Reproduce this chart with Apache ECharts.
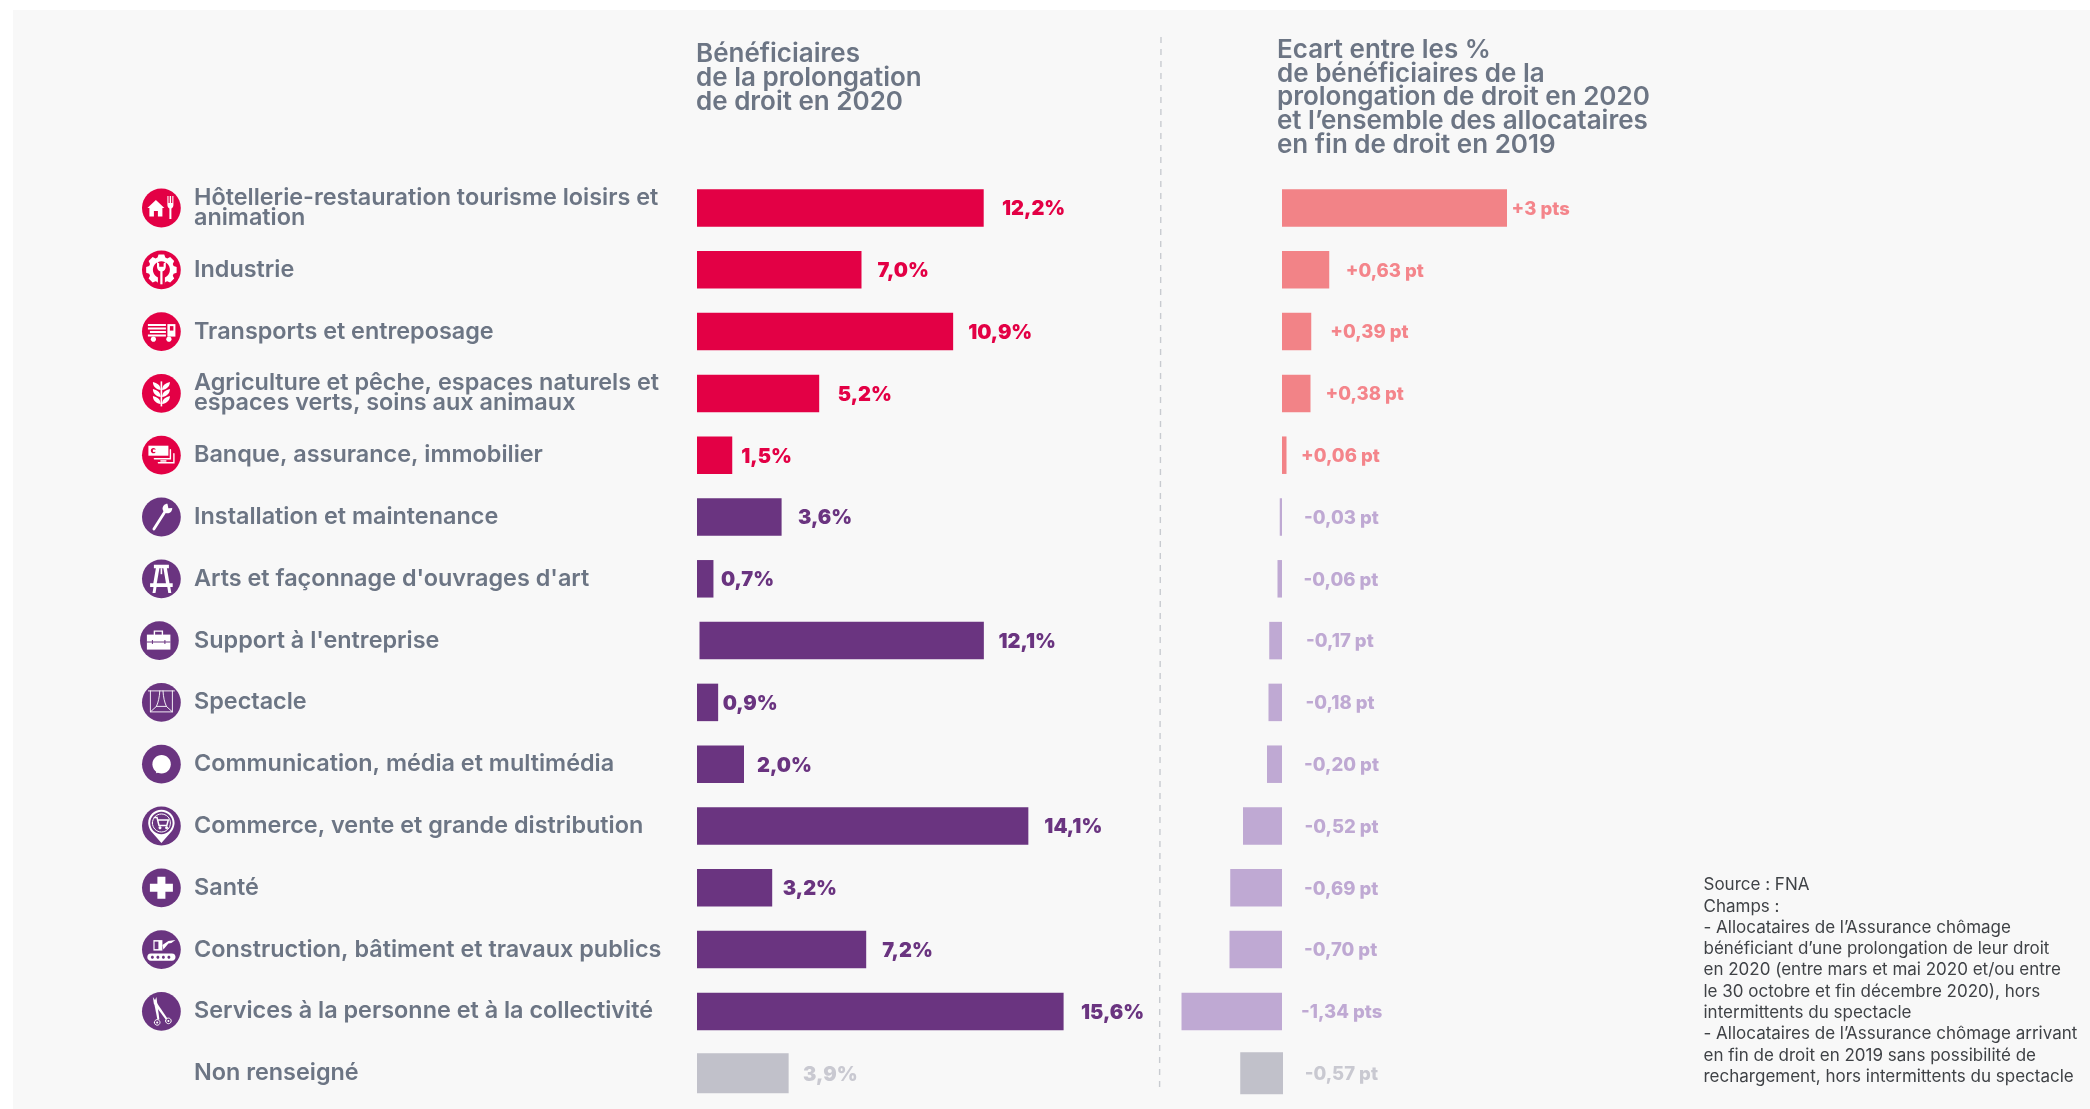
<!DOCTYPE html>
<html lang="fr">
<head>
<meta charset="utf-8">
<title>Bénéficiaires de la prolongation de droit en 2020</title>
<style>html,body{margin:0;padding:0;background:#fff}#c{width:2090px;height:1109px}</style>
<script src="https://cdn.jsdelivr.net/npm/echarts@6/dist/echarts.min.js"></script>
</head>
<body>
<div id="c"></div>
<script>
// ---- data ----
const categories = [
  "Hôtellerie-restauration tourisme loisirs et\nanimation",
  "Industrie",
  "Transports et entreposage",
  "Agriculture et pêche, espaces naturels et\nespaces verts, soins aux animaux",
  "Banque, assurance, immobilier",
  "Installation et maintenance",
  "Arts et façonnage d'ouvrages d'art",
  "Support à l'entreprise",
  "Spectacle",
  "Communication, média et multimédia",
  "Commerce, vente et grande distribution",
  "Santé",
  "Construction, bâtiment et travaux publics",
  "Services à la personne et à la collectivité",
  "Non renseigné"
];
const beneficiaries = [12.2, 7.0, 10.9, 5.2, 1.5, 3.6, 0.7, 12.1, 0.9, 2.0, 14.1, 3.2, 7.2, 15.6, 3.9];
const gapPoints = [3, 0.63, 0.39, 0.38, 0.06, -0.03, -0.06, -0.17, -0.18, -0.20, -0.52, -0.69, -0.70, -1.34, -0.57];
const gapLabels = ["+3 pts", "+0,63 pt", "+0,39 pt", "+0,38 pt", "+0,06 pt", "-0,03 pt", "-0,06 pt", "-0,17 pt", "-0,18 pt", "-0,20 pt", "-0,52 pt", "-0,69 pt", "-0,70 pt", "-1,34 pts", "-0,57 pt"];
const titleLeft = "Bénéficiaires\nde la prolongation\nde droit en 2020";
const titleRight = "Ecart entre les %\nde bénéficiaires de la\nprolongation de droit en 2020\net l’ensemble des allocataires\nen fin de droit en 2019";
const footnote = "Source : FNA\nChamps :\n- Allocataires de l’Assurance chômage\nbénéficiant d’une prolongation de leur droit\nen 2020 (entre mars et mai 2020 et/ou entre\nle 30 octobre et fin décembre 2020), hors\nintermittents du spectacle\n- Allocataires de l’Assurance chômage arrivant\nen fin de droit en 2019 sans possibilité de\nrechargement, hors intermittents du spectacle";

// ---- styles ----
const RED = "#e30045", PURPLE = "#6a3480", GREY = "#c1c1ca";
const L_RED = "#f28387", L_PURPLE = "#bfa9d3";
const L_RED_TXT = "#f4858b", L_PURPLE_TXT = "#bfa9d3", GREY_TXT = "#c9c9d1";
const TXT = "#6c7584";
const FONT = "Inter, 'Open Sans', sans-serif";
const groupOf = i => i < 5 ? 0 : (i < 14 ? 1 : 2);
const leftColor = i => [RED, PURPLE, GREY][groupOf(i)];
const rightColor = i => [L_RED, L_PURPLE, GREY][groupOf(i)];
const leftTxt = i => [RED, PURPLE, GREY_TXT][groupOf(i)];
const rightTxt = i => [L_RED_TXT, L_PURPLE_TXT, GREY_TXT][groupOf(i)];
const SUPPORT = 7, NR = 14;
const leftLabelGap = [18.3, 16, 15, 18.5, 9, 16.4, 7.5, 14.6, 4.5, 13, 16, 10.5, 16, 17.4, 14.4];
const rightLabelGap = [4.6, 16.5, 19, 15, 14.5, 22, 21.5, 24, 23.5, 22, 22.5, 22, 22, 19, 21.7];

// ---- icons: layers drawn in a 40x40 box over the round badge ----
const circ = (x, y, r) => {
  const k = r * 0.5523;
  return `M${x - r} ${y}C${x - r} ${y - k} ${x - k} ${y - r} ${x} ${y - r}C${x + k} ${y - r} ${x + r} ${y - k} ${x + r} ${y}C${x + r} ${y + k} ${x + k} ${y + r} ${x} ${y + r}C${x - k} ${y + r} ${x - r} ${y + k} ${x - r} ${y}Z`;
};
function gear(cx, cy, R, r, n) {
  let d = "";
  for (let k = 0; k < n; k++) {
    const a = k / n * Math.PI * 2, w = Math.PI / n * 0.55, t = Math.PI / n * 0.4;
    const pts = [[r, a - w - t * 0.6], [R, a - w + t * 0.2], [R, a + w - t * 0.2], [r, a + w + t * 0.6]];
    pts.forEach((p, j) => { d += (k === 0 && j === 0 ? "M" : "L") + (cx + p[0] * Math.sin(p[1])).toFixed(2) + " " + (cy - p[0] * Math.cos(p[1])).toFixed(2); });
  }
  return d + "Z";
}
const wheat = y => `M11.5 ${y}c4 .8 7.8 3.2 7.8 8.2c-4.2-.8-7.8-3.4-7.8-8.2ZM28.5 ${y}c-4 .8-7.8 3.2-7.8 8.2c4.2-.8 7.8-3.4 7.8-8.2Z`;
const F = d => ({ d, fill: "#fff" });
const K = d => ({ d, fill: "badge" });
const S = (d, lw) => ({ d, stroke: "#fff", lw });
const iconLayers = [
  [F("M6 20L14.5 12L23 20H21V28.5H16.5V23H12.5V28.5H8V20Z"), F("M26 8h1.1v7h1.2V8h1.4v7h1.2V8H32v9c0 2-1 3-2 3.5V31h-2V20.5c-1-.5-2-1.5-2-3.5Z")],
  [F(gear(20, 20, 15.5, 12.8, 8)), K(circ(20, 20, 8.5)), K("M16.5 25h7v12h-7z"), F("M18.9 21h2.2v13.5h-2.2z"), F("M15.6 12v5c0 2.2 1.5 4 3 4.5h2.8c1.5-.5 3-2.3 3-4.5v-5l-2.2 1.6V17h-4.4v-3.4Z")],
  [F("M6.5 12.5h18v2h-18zM6.5 16h18v2h-18zM8.5 19.5h16v2h-16zM6.5 23h18v2h-18z"), F("M26 12.5h8V25H26Z"), K("M28.5 14.5h3.5v4.5h-3.5z"), F(circ(12, 27.6, 2.6)), F(circ(27.5, 27.6, 2.6))],
  [F("M19.2 8h1.6v25h-1.6z"), F(wheat(8.5)), F(wheat(15.5)), F(wheat(22.5))],
  [F("M7 10.5h20v10H7z"), K(circ(12, 15.5, 2.6)), F("M11.5 14.3h4v2.4h-4z"), S("M29 14.5v9H13", 1.4), S("M32.5 18.5v9H17", 1.4), F("M19 25h6v1.5h-6z")],
  [S("M12.5 32L24 14", 2.8), F(circ(26, 11.5, 4.8)), K("M25.8 5.5L31.5 5L31 11L27 11.2Z")],
  [F("M12.5 6h15v3.4h-2l2.6 15h3.2v3.8H28.9l1 6h-3l-1-6H15.1l-1 6h-3l1-6H8.7v-3.8h3.2l2.6-15h-2Z"), K("M18 9.4h4l2.6 15H15.4Z"), F("M19.2 9.4h1.6v6h-1.6z")],
  [S("M15 14v-3.5h8V14", 1.4), F("M7.5 14h23.5v15H7.5z"), K("M7.5 21h23.5v1H7.5zM12.5 19.5h1v4h-1zM25 19.5h1v4h-1z")],
  [S("M7 8.5h26M9 8.5v21h22v-21M9 29.5l6-5.5c2-4.5 3-9 3.4-15.5M31 29.5l-6-5.5c-2-4.5-3-9-3.4-15.5M15 24h10", 0.9)],
  [F(circ(20.2, 20, 9.2)), F("M15.5 26l-1 3l6-1.8Z")],
  [F("M20 37L11 26.8C7 23 6.8 17 6.8 17C6.8 9.7 12.7 3.8 20 3.8C27.3 3.8 33.2 9.7 33.2 17C33.2 17 33 23 29 26.8Z"), K(circ(20, 17, 11.2)), S(circ(20, 17, 9), 1), S("M13 11.5h2.6l2 8h7.8l1.5-5.5H16.4", 1.5), F(circ(18.6, 21.8, 1.5)), F(circ(25.2, 21.8, 1.5))],
  [F("M16 9h8v7h7.5v8H24v7h-8V24H8.5v-8H16Z")],
  [F("M12 10.5h9v10.5H12z"), K("M13.2 12h3.8v7.5h-3.8z"), F("M21 15.5L27 11.5L34 10.5L30 13.5L27 14L22 20Z"), F("M9.5 24h21c4.8 0 4.8 7.2 0 7.2h-21c-4.8 0-4.8-7.2 0-7.2Z"), K(circ(11, 27.6, 1.5)), K(circ(16.5, 27.6, 1.5)), K(circ(22, 27.6, 1.5)), K(circ(27.5, 27.6, 1.5))],
  [F("M11.5 5.5L26 27L24.3 28L12.4 12Z"), F("M15 5.5L18 28H16L12.6 11Z"), S(circ(15.8, 31, 2.8), 1), S(circ(27, 29.5, 2.8), 1), F(circ(15.8, 31, 1)), F(circ(27, 29.5, 1))]
];
const BADGE_OFFSET = 535.6, BADGE_NUDGE = { 7: 2 };

const GRID_TOP = 177.1, GRID_H = 927;
const grid = (left, width) => ({ left, width, top: GRID_TOP, height: GRID_H });
const xAxis = (gridIndex, min, max) => ({ type: "value", gridIndex, min, max, show: false });
const yAxis = (gridIndex, extra) => Object.assign({ type: "category", gridIndex, data: categories, inverse: true, show: false }, extra || {});

const leftItem = i => ({
  value: beneficiaries[i],
  itemStyle: { color: leftColor(i) },
  label: { distance: leftLabelGap[i], color: leftTxt(i), formatter: beneficiaries[i].toFixed(1).replace(".", ",") + "%" }
});
const rightItem = i => ({
  value: gapPoints[i],
  itemStyle: { color: rightColor(i) },
  label: { distance: rightLabelGap[i], color: rightTxt(i), formatter: gapLabels[i] }
});
const LEFT_LABEL = { show: true, position: "right", offset: [0, 1.3], fontFamily: FONT, fontSize: 20, fontWeight: 900 };
const RIGHT_LABEL = { show: true, position: "right", offset: [0, 1.3], fontFamily: FONT, fontSize: 18.5, fontWeight: 800 };
const only = (fn, test) => categories.map((_, i) => test(i) ? fn(i) : "-");
const barSeries = (name, axis, data, width, label) => ({
  type: "bar", name, xAxisIndex: axis, yAxisIndex: axis, data, barWidth: width, label, silent: true, animation: false
});

const option = {
  backgroundColor: "#ffffff",
  animation: false,
  title: [
    { text: titleLeft, left: 691, top: 37, textStyle: { color: TXT, fontFamily: FONT, fontSize: 26, fontWeight: 600, lineHeight: 24 } },
    { text: titleRight, left: 1272, top: 33.5, textStyle: { color: TXT, fontFamily: FONT, fontSize: 26, fontWeight: 600, lineHeight: 23.6 } },
    { text: footnote, left: 1698.5, top: 869.5, textStyle: { color: "#3f4246", fontFamily: FONT, fontSize: 17, fontWeight: 400, lineHeight: 21.3 } }
  ],
  graphic: [
    { type: "rect", z: -5, silent: true, shape: { x: 13, y: 10, width: 2077, height: 1099 }, style: { fill: "#f8f8f8" } },
    { type: "line", z: -4, silent: true, shape: { x1: 1161, y1: 37, x2: 1159.6, y2: 1092 }, style: { stroke: "#c8cbd0", lineWidth: 1.4, lineDash: [6, 6] } }
  ],
  grid: [grid(697, 470), grid(699.5, 470), grid(697, 470), grid(1132, 450), grid(1133, 450)],
  xAxis: [xAxis(0, 0, 20), xAxis(1, 0, 20), xAxis(2, 0, 20), xAxis(3, -2, 4), xAxis(4, -2, 4)],
  yAxis: [
    yAxis(0, {
      show: true, axisLine: { show: false }, axisTick: { show: false }, splitLine: { show: false },
      axisLabel: { show: true, interval: 0, margin: 503, align: "left", padding: [5, 0, 0, 0], color: TXT, fontFamily: FONT, fontSize: 23.4, fontWeight: 600, lineHeight: 20 }
    }),
    yAxis(1), yAxis(2), yAxis(3), yAxis(4)
  ],
  series: [
    barSeries("Bénéficiaires", 0, only(leftItem, i => i !== SUPPORT && i !== NR), 37.5, LEFT_LABEL),
    barSeries("Bénéficiaires (support)", 1, only(leftItem, i => i === SUPPORT), 37.5, LEFT_LABEL),
    barSeries("Bénéficiaires (non renseigné)", 2, only(leftItem, i => i === NR), 40, LEFT_LABEL),
    barSeries("Ecart", 3, only(rightItem, i => i !== NR), 37.5, RIGHT_LABEL),
    barSeries("Ecart (non renseigné)", 4, only(rightItem, i => i === NR), 42, RIGHT_LABEL),
    {
      type: "custom", name: "Icônes", xAxisIndex: 0, yAxisIndex: 0, silent: true, animation: false, clip: false,
      data: iconLayers.map((_, i) => [0, i]),
      encode: { x: 0, y: 1 },
      renderItem(params, api) {
        const i = params.dataIndex;
        const p = api.coord([0, api.value(1)]);
        const color = leftColor(i);
        const children = [{ type: "circle", shape: { cx: 20, cy: 20, r: 19.4 }, style: { fill: color } }];
        iconLayers[i].forEach(l => {
          const style = l.stroke
            ? { fill: "none", stroke: l.stroke, lineWidth: l.lw, lineCap: "round" }
            : { fill: l.fill === "badge" ? color : l.fill };
          children.push({
            type: "path",
            shape: { pathData: "M0 0M40 40" + l.d, x: 0, y: 0, width: 40, height: 40, layout: "cover" },
            style
          });
        });
        return { type: "group", x: p[0] - BADGE_OFFSET - (BADGE_NUDGE[i] || 0) - 20, y: p[1] - 20, children };
      }
    }
  ]
};
const chart = echarts.init(document.getElementById("c"), null, { renderer: "canvas" });
chart.setOption(option);
</script>
</body>
</html>
